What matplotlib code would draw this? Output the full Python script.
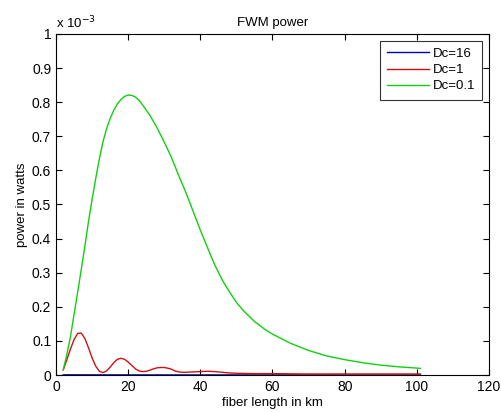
import matplotlib
matplotlib.use("Agg")
import matplotlib.pyplot as plt

plt.rcParams['font.family'] = ['Liberation Sans', 'DejaVu Sans']

# Data (power in units of 1e-3 W)
x_green = [2, 3, 4, 5, 6, 7, 8, 9, 10, 11, 12, 13, 14, 15, 16, 17, 18, 19, 20, 21, 22,
           23, 24, 25, 26, 28, 30, 32, 34, 36, 38, 40, 42, 44, 46, 48, 50, 52, 55, 58,
           60, 65, 70, 75, 80, 85, 90, 95, 101]
y_green = [0.015, 0.06, 0.112, 0.178, 0.243, 0.31, 0.378, 0.45, 0.515, 0.576, 0.633,
           0.683, 0.722, 0.752, 0.776, 0.795, 0.808, 0.817, 0.821, 0.82, 0.815, 0.806,
           0.792, 0.777, 0.762, 0.725, 0.683, 0.638, 0.585, 0.535, 0.48, 0.425, 0.373,
           0.323, 0.28, 0.245, 0.213, 0.188, 0.157, 0.133, 0.12, 0.093, 0.072, 0.056,
           0.045, 0.036, 0.029, 0.024, 0.0195]

x_red = [2, 3, 4, 5, 6, 7, 8, 9, 10, 11, 12, 13, 14, 15, 16, 17, 18, 19, 20, 21, 22, 23,
         24, 25, 26, 27, 28, 29, 30, 31, 32, 33, 34, 35, 36, 38, 40, 42, 44, 46, 48, 50,
         55, 60, 70, 80, 90, 101]
y_red = [0.015, 0.045, 0.076, 0.104, 0.122, 0.123, 0.107, 0.08, 0.05, 0.026, 0.011,
         0.007, 0.012, 0.023, 0.036, 0.046, 0.049, 0.046, 0.038, 0.028, 0.018, 0.012,
         0.010, 0.011, 0.014, 0.018, 0.021, 0.022, 0.022, 0.020, 0.017, 0.012, 0.009,
         0.008, 0.008, 0.009, 0.010, 0.011, 0.010, 0.008, 0.006, 0.005, 0.004, 0.004,
         0.003, 0.003, 0.003, 0.003]

x_blue = [2, 20, 40, 60, 80, 101]
y_blue = [0.0005, 0.0003, 0.0002, 0.0002, 0.0001, 0.0001]

labels = ['Dc=16', 'Dc=1', 'Dc=0.1']
xticks = [0, 20, 40, 60, 80, 100, 120]
yticks = [0, 0.1, 0.2, 0.3, 0.4, 0.5, 0.6, 0.7, 0.8, 0.9, 1]

fig = plt.figure(figsize=(5.02, 4.12), dpi=100)
ax = fig.add_axes([0.1116, 0.0898, 0.8624, 0.8277])

ax.plot(x_blue, y_blue, color='#0000b0', lw=1.0, label=labels[0])
ax.plot(x_red, y_red, color='#d01010', lw=1.0, label=labels[1])
ax.plot(x_green, y_green, color='#10d010', lw=1.0, label=labels[2])

ax.set_xlim(0, 120)
ax.set_ylim(0, 1)
ax.set_xticks(xticks)
ax.set_yticks(yticks)
ax.set_xticklabels(['%g' % t for t in xticks])
ax.set_yticklabels(['%g' % t for t in yticks])
ax.tick_params(direction='in', top=True, right=True, length=4, labelsize=10, width=0.8)
for s in ax.spines.values():
    s.set_linewidth(0.8)

ax.set_title('FWM power', fontsize=9.5, pad=6)
ax.set_xlabel('fiber length in km', fontsize=9.5, labelpad=2)
ax.set_ylabel('power in watts', fontsize=9.5, labelpad=3)
ax.text(0.0, 1.008, r'x 10$^{-3}$', transform=ax.transAxes, fontsize=9.5,
        ha='left', va='bottom')

leg = ax.legend(loc='upper right', fontsize=9.5, frameon=True, fancybox=False,
                edgecolor='black', handlelength=3.2, borderaxespad=0.5,
                labelspacing=0.3, borderpad=0.55, handletextpad=0.27)
leg.get_frame().set_linewidth(0.8)

fig.savefig('out.png', dpi=100, facecolor='white')
